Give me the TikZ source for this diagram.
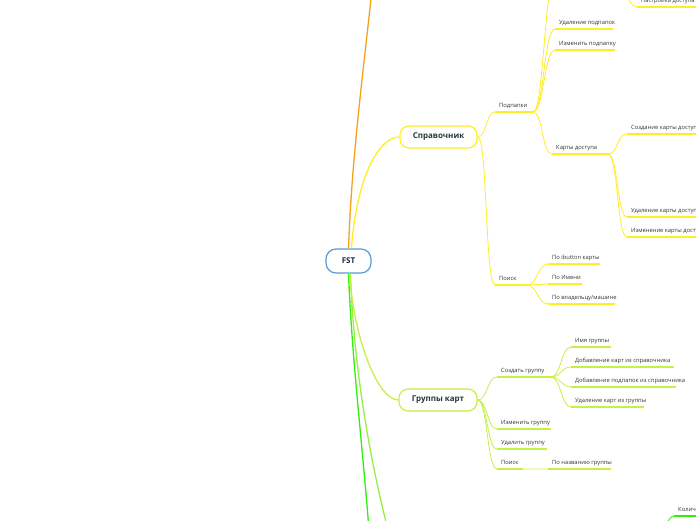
\documentclass[tikz,border=0pt]{standalone}
\usepackage{fontspec}
\setmainfont{Open Sans}
\definecolor{orangeb}{HTML}{F7A01C}
\definecolor{yel}{HTML}{FFEE22}
\definecolor{yg}{HTML}{C6F046}
\definecolor{gr1}{HTML}{33EE11}
\definecolor{gr2}{HTML}{99EE44}
\definecolor{fstblue}{HTML}{5B9BD5}
\definecolor{nodetext}{HTML}{1F3A3A}
\definecolor{fsttext}{HTML}{1A2A48}
\definecolor{leaftext}{HTML}{333333}
\newcommand\mmleaf[6]{%
  \coordinate (#1s) at (#2,#4);
  \coordinate (#1e) at (#3,#4);
  \node[leaf,anchor=base west] (#1) at ({#2+4},{#4-5}) {#5};
  \draw[ul,#6] (#1s) -- (#1e);
}
\begin{document}
\begin{tikzpicture}[x=1pt,y=-1pt,
  leaf/.style={inner sep=0pt,text=leaftext,font=\fontsize{5.8}{7}\selectfont},
  ul/.style={line width=1.5pt},
  mainnode/.style={draw,line width=1.2pt,fill=white,rounded corners=9pt,minimum height=22pt,font=\bfseries\fontsize{8}{9}\selectfont,text=nodetext},
  br/.style={line width=1.3pt},
  sub/.style={line width=0.8pt}]
\useasboundingbox (0,0) rectangle (696,520);
\clip (0,0) rectangle (696,520);

% coordinates for off-picture ends
\coordinate (orangeEnd) at (374,-30);
\coordinate (g1End) at (369,530);
\coordinate (g2End) at (388,530);
\coordinate (subTop) at (555,-20);
\coordinate (nastrFrom) at (612,-30);
\coordinate (kolFrom) at (660,530);

% main nodes
\node[mainnode,draw=fstblue,text=fsttext,minimum width=45pt,minimum height=24pt,rounded corners=10pt] (fst) at (348.5,261) {FST};
\node[mainnode,draw=yel,minimum width=77pt] (spr) at (438.5,137) {Справочник};
\node[mainnode,draw=yg,minimum width=78pt] (grp) at (438,400) {Группы карт};

% leaves: Справочник subtree
\mmleaf{podp}{495}{533}{112}{Подпапки}{yel}
\mmleaf{udpodp}{555}{613}{29}{Удаление подпапок}{yel}
\mmleaf{izpodp}{555}{615}{50}{Изменить подпапку}{yel}
\mmleaf{nastr}{637}{720}{7}{Настройка доступа}{yel}
\mmleaf{karty}{552}{608}{154}{Карты доступа}{yel}
\mmleaf{sozd}{627}{730}{134}{Создание карты доступа}{yel}
\mmleaf{udkart}{627}{730}{217}{Удаление карты доступа}{yel}
\mmleaf{izkart}{627}{730}{237}{Изменение карты доступа}{yel}
\mmleaf{poisk}{495}{527}{285}{Поиск}{yel}
\mmleaf{ibut}{548}{600}{264}{По ibutton карты}{yel}
\mmleaf{imen}{548}{582}{284}{По Имени}{yel}
\mmleaf{vlad}{548}{615}{304}{По владельцу/машине}{yel}

% leaves: Группы карт subtree
\mmleaf{sozdg}{497}{551}{377}{Создать группу}{yg}
\mmleaf{imya}{571}{611}{347}{Имя группы}{yg}
\mmleaf{dobk}{571}{674}{367}{Добавление карт из справочника}{yg}
\mmleaf{dobp}{571}{676}{387}{Добавление подпапок из справочника}{yg}
\mmleaf{udkg}{571}{644}{407}{Удаление карт из группы}{yg}
\mmleaf{izg}{497}{551}{429}{Изменить группу}{yg}
\mmleaf{udg}{497}{547}{449}{Удалить группу}{yg}
\mmleaf{poiskg}{497}{523}{469}{Поиск}{yg}
\mmleaf{ponaz}{548}{611}{469}{По названию группы}{yg}

% bottom right partial leaf
\mmleaf{kol}{674}{730}{516}{Количество}{gr1}

% main branches
\draw[br,orangeb] (fst.north) .. controls (352,150) and (365,60) .. (orangeEnd);
\draw[br,gr1] (fst.south) .. controls (352,360) and (362,440) .. (g1End);
\draw[br,gr2] ([xshift=2pt]fst.south) .. controls (353,350) and (365,440) .. (g2End);
\draw[br,yel] ([xshift=3pt]fst.north) .. controls (356,180) and (378,137) .. (spr.west);
\draw[br,yg] ([xshift=1pt]fst.south) .. controls (354,340) and (378,400) .. (grp.west);

% Справочник links
\draw[sub,yel] (spr.east) .. controls +(9,0) and +(-9,0) .. (podps);
\draw[sub,yel] (spr.east) .. controls +(10,0) and +(-10,0) .. (poisks);
\draw[sub,yel] (podpe) .. controls +(11,0) and +(-11,0) .. (udpodps);
\draw[sub,yel] (podpe) .. controls +(11,0) and +(-11,0) .. (izpodps);
\draw[sub,yel] (podpe) .. controls +(11,0) and +(-11,0) .. (subTop);
\draw[sub,yel] (podpe) .. controls +(10,0) and +(-10,0) .. (kartys);
\draw[sub,yel] (nastrFrom) .. controls +(12,0) and +(-12,0) .. (nastrs);
\draw[sub,yel] (kartye) .. controls +(10,0) and +(-10,0) .. (sozds);
\draw[sub,yel] (kartye) .. controls +(10,0) and +(-10,0) .. (udkarts);
\draw[sub,yel] (kartye) .. controls +(10,0) and +(-10,0) .. (izkarts);
\draw[sub,yel] (poiske) .. controls +(10,0) and +(-10,0) .. (ibuts);
\draw[sub,yel] (poiske) .. controls +(10,0) and +(-10,0) .. (imens);
\draw[sub,yel] (poiske) .. controls +(10,0) and +(-10,0) .. (vlads);

% Группы карт links
\draw[sub,yg] (grp.east) .. controls +(10,0) and +(-10,0) .. (sozdgs);
\draw[sub,yg] (grp.east) .. controls +(10,0) and +(-10,0) .. (izgs);
\draw[sub,yg] (grp.east) .. controls +(10,0) and +(-10,0) .. (udgs);
\draw[sub,yg] (grp.east) .. controls +(10,0) and +(-10,0) .. (poiskgs);
\draw[sub,yg] (sozdge) .. controls +(10,0) and +(-10,0) .. (imyas);
\draw[sub,yg] (sozdge) .. controls +(10,0) and +(-10,0) .. (dobks);
\draw[sub,yg] (sozdge) .. controls +(10,0) and +(-10,0) .. (dobps);
\draw[sub,yg] (sozdge) .. controls +(10,0) and +(-10,0) .. (udkgs);
\draw[ul,yg!35] (poiskge) -- (ponazs);
\draw[sub,gr1] (kolFrom) .. controls +(6,0) and +(-6,0) .. (kols);
\end{tikzpicture}
\end{document}
